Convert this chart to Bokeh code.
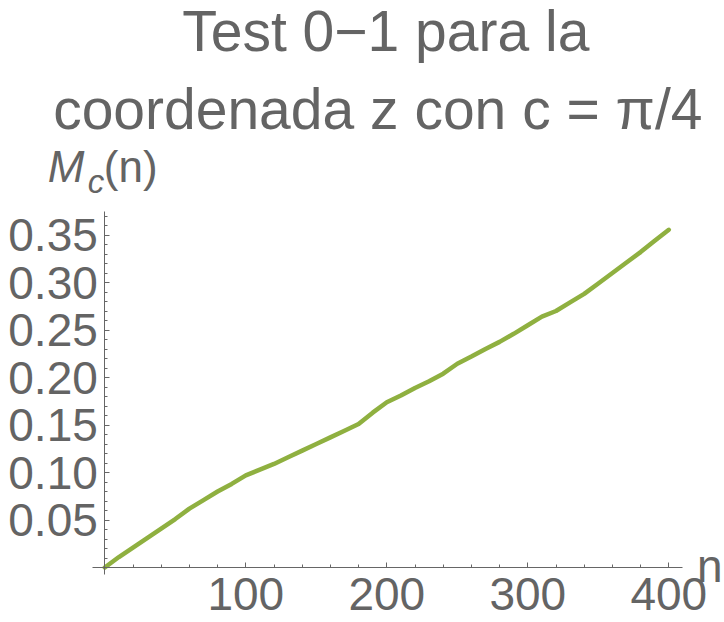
from bokeh.plotting import figure
from bokeh.models import Range1d, FixedTicker, Label
from bokeh.embed import file_html
from bokeh.resources import INLINE

# ---- data ----
n_values = [0, 10, 20, 30, 40, 50, 60, 70, 80, 90, 100, 110, 120, 130, 140, 150,
            160, 170, 180, 190, 200, 210, 220, 230, 240, 250, 260, 270, 280, 290,
            300, 310, 320, 330, 340, 350, 360, 370, 380, 390, 400]
mc_values = [0.0, 0.011, 0.021, 0.031, 0.041, 0.051, 0.062, 0.071, 0.080, 0.088,
             0.097, 0.103, 0.109, 0.116, 0.123, 0.130, 0.137, 0.144, 0.151, 0.163,
             0.174, 0.181, 0.189, 0.196, 0.204, 0.2145, 0.222, 0.230, 0.2375, 0.246,
             0.255, 0.264, 0.270, 0.279, 0.288, 0.299, 0.310, 0.321, 0.332, 0.344,
             0.3555]

x_ticks = [100, 200, 300, 400]
x_tick_labels = ["100", "200", "300", "400"]
x_minor = [20, 40, 60, 80, 120, 140, 160, 180, 220, 240, 260, 280, 320, 340, 360, 380]
y_ticks = [0.05, 0.10, 0.15, 0.20, 0.25, 0.30, 0.35]
y_tick_labels = ["0.05", "0.10", "0.15", "0.20", "0.25", "0.30", "0.35"]
y_minor = [0.01, 0.02, 0.03, 0.04, 0.06, 0.07, 0.08, 0.09, 0.11, 0.12, 0.13, 0.14,
           0.16, 0.17, 0.18, 0.19, 0.21, 0.22, 0.23, 0.24, 0.26, 0.27, 0.28, 0.29,
           0.31, 0.32, 0.33, 0.34, 0.36, 0.37]

title_line1 = "Test 0\u22121 para la"
title_line2 = "coordenada z con c = \u03c0/4"

# axis extents (plot range as drawn by the reference)
X_AX = (-8.5, 410)
Y_AX = (-0.007, 0.375)

# ---- layout geometry (pixels inside the figure) ----
W, H = 724, 620
ORIGIN_X, ORIGIN_Y = 104.3, 567.0     # pixel position of (0, 0), from top-left
PX_PER_X = 1.41                       # pixels per unit of n
PX_PER_Y = 950.0                      # pixels per unit of M_c

x0 = -ORIGIN_X / PX_PER_X
x1 = x0 + W / PX_PER_X
y0 = -(H - ORIGIN_Y) / PX_PER_Y
y1 = y0 + H / PX_PER_Y

FONT = "Liberation Sans"
TXT = "#646464"
AX = "#666666"
LINE = "#8fb040"

p = figure(width=W, height=H, output_backend="svg", toolbar_location=None,
           x_range=Range1d(x0, x1), y_range=Range1d(y0, y1),
           min_border=0, min_border_left=0, min_border_right=0,
           min_border_top=0, min_border_bottom=0)
p.outline_line_color = None
p.grid.visible = False
p.background_fill_color = "white"
p.border_fill_color = "white"

p.line(n_values, mc_values, line_color=LINE, line_width=4.5, line_cap="round",
       line_join="round")

for ax in (p.xaxis[0], p.yaxis[0]):
    ax.fixed_location = 0
    ax.axis_line_color = AX
    ax.major_tick_line_color = AX
    ax.minor_tick_line_color = AX
    ax.major_tick_in = 5
    ax.major_tick_out = 0
    ax.minor_tick_in = 3
    ax.minor_tick_out = 0
    ax.major_label_text_font = FONT
    ax.major_label_text_font_size = "46px"
    ax.major_label_text_color = TXT

p.xaxis[0].bounds = X_AX
p.yaxis[0].bounds = Y_AX
p.xaxis[0].ticker = FixedTicker(ticks=x_ticks, minor_ticks=x_minor)
p.xaxis[0].major_label_overrides = dict(zip(x_ticks, x_tick_labels))
p.xaxis[0].major_label_standoff = 10
p.yaxis[0].ticker = FixedTicker(ticks=y_ticks, minor_ticks=y_minor)
p.yaxis[0].major_label_overrides = dict(zip(y_ticks, y_tick_labels))
p.yaxis[0].major_label_standoff = 7

BASE_FIX = 0.37   # Bokeh draws 'alphabetic' text a bit lower; compensate (in em)

def add_label(x, y, text, dx, dy, size, align="left", style="normal"):
    p.add_layout(Label(x=x, y=y, x_offset=dx, y_offset=dy + BASE_FIX * size,
                       text=text, text_font=FONT, text_font_size=f"{size}px",
                       text_color=TXT, text_align=align,
                       text_baseline="alphabetic", text_font_style=style))

# title (two centred lines), anchored at the top of the y axis
add_label(0, Y_AX[1], title_line1, 281, 159, 57, align="center")
add_label(0, Y_AX[1], title_line2, 273, 81, 57, align="center")
# y axis label M_c(n)
add_label(0, Y_AX[1], "M", -57, 28, 44, style="italic")
add_label(0, Y_AX[1], "c", -17, 18, 33, style="italic")
add_label(0, Y_AX[1], "(n)", -1, 28, 44)
# x axis label
add_label(X_AX[1], 0, "n", 14, -16, 46)

open("out.html", "w").write(file_html(p, INLINE))
